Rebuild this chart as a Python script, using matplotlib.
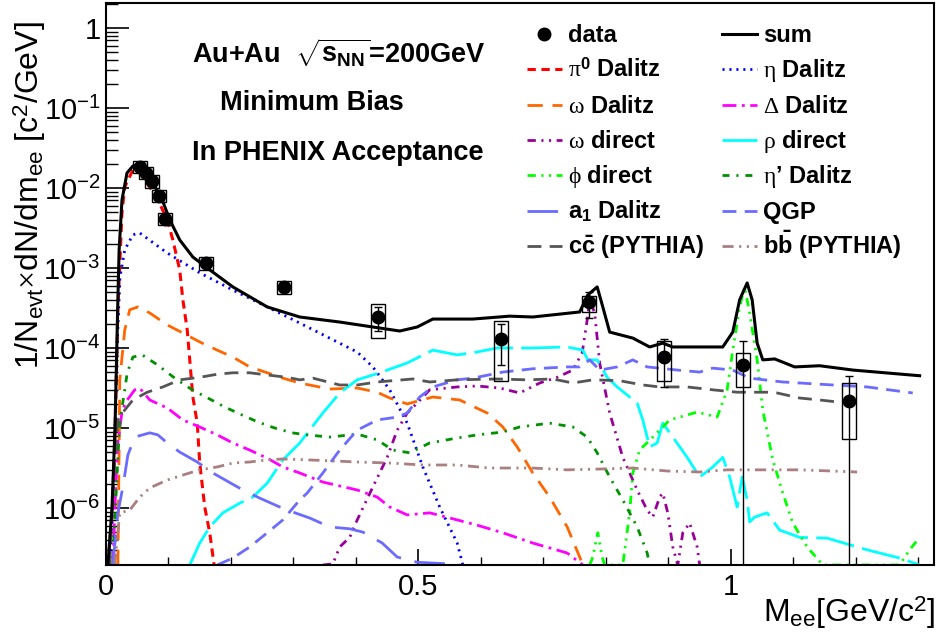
import numpy as np
import matplotlib
matplotlib.use('Agg')
import matplotlib.pyplot as plt
from matplotlib.lines import Line2D
from matplotlib.patches import Rectangle
from matplotlib.ticker import LogLocator, MultipleLocator, FuncFormatter, NullFormatter, FixedLocator

plt.rcParams['font.family'] = ['Liberation Sans', 'DejaVu Sans']
plt.rcParams['mathtext.fontset'] = 'custom'
plt.rcParams['mathtext.rm'] = 'Liberation Serif'
plt.rcParams['mathtext.it'] = 'Liberation Serif:italic'
plt.rcParams['mathtext.bf'] = 'Liberation Sans:bold'
plt.rcParams['mathtext.sf'] = 'Liberation Sans'
plt.rcParams['lines.scale_dashes'] = False

# ---- data points (M_ee in GeV/c^2, yield) ----
data_x = [0.054, 0.064, 0.074, 0.085, 0.094, 0.160, 0.285, 0.435, 0.632, 0.773, 0.893, 1.019, 1.189]
data_y = [0.0183, 0.0154, 0.0122, 0.0079, 0.0041, 0.00116, 0.00058, 2.44e-4, 1.3e-4, 3.8e-4, 7.7e-5, 6.1e-5, 2.2e-5]
stat_hi = [0.0186, 0.0157, 0.0125, 0.0081, 0.0042, 0.00119, 0.00060, 3.26e-4, 2.0e-4, 5.0e-4, 1.3e-4, 1.22e-4, 4.47e-5]
stat_lo = [0.0180, 0.0151, 0.0119, 0.0077, 0.0040, 0.00113, 0.00056, 1.63e-4, 6.1e-5, 2.37e-4, 3.26e-5, 0, 0]
sys_hi = [0.022, 0.0185, 0.0146, 0.0095, 0.0049, 0.00138, 0.00069, 3.55e-4, 2.18e-4, 4.47e-4, 1.22e-4, 8.66e-5, 3.65e-5]
sys_lo = [0.0152, 0.0128, 0.0101, 0.0066, 0.0034, 0.00094, 0.00047, 1.33e-4, 3.87e-5, 2.8e-4, 3.87e-5, 3.26e-5, 7.3e-6]

# ---- cocktail components ----
sum_x = [0.003, 0.0096, 0.0144, 0.019, 0.021, 0.0256, 0.0336, 0.043, 0.051, 0.070, 0.090, 0.102, 0.118, 0.139,
         0.162, 0.203, 0.258, 0.310, 0.374, 0.470, 0.498, 0.523, 0.587, 0.646, 0.683, 0.758, 0.771, 0.786,
         0.795, 0.806, 0.843, 0.870, 0.891, 0.907, 0.950, 0.987, 1.003, 1.014, 1.026, 1.034, 1.042, 1.051,
         1.070, 1.102, 1.142, 1.195, 1.302]
sum_y = [0, 1e-6, 1e-5, 4e-4, 1.68e-3, 7.1e-3, 0.0154, 0.0188, 0.0194, 0.0137, 0.0071, 0.004, 0.00224, 0.00137,
         0.001, 5.8e-4, 3.26e-4, 2.44e-4, 2.11e-4, 1.63e-4, 1.83e-4, 2.3e-4, 2.3e-4, 2.5e-4, 2.44e-4, 2.82e-4,
         4.6e-4, 5.8e-4, 3.26e-4, 1.58e-4, 1.33e-4, 1.03e-4, 1.15e-4, 1.03e-4, 1.03e-4, 1.03e-4, 1.58e-4,
         4e-4, 6.5e-4, 4e-4, 1.15e-4, 7.1e-5, 7.3e-5, 5.8e-5, 6.0e-5, 5.3e-5, 4.5e-5]

pi0_x = [0.003, 0.0096, 0.0144, 0.019, 0.0256, 0.030, 0.043, 0.054, 0.070, 0.083, 0.098, 0.107, 0.118, 0.123,
         0.130, 0.139, 0.146, 0.150, 0.158, 0.166, 0.173]
pi0_y = [0, 8e-7, 8e-6, 3e-4, 5e-3, 0.0103, 0.0168, 0.0154, 0.0103, 0.0071, 0.004, 0.00224, 9.4e-4, 4e-4,
         1.68e-4, 2.44e-5, 1.15e-5, 3.65e-6, 1.03e-6, 4.9e-7, 0]

eta_x = [0.006, 0.011, 0.0176, 0.0224, 0.030, 0.043, 0.054, 0.098, 0.150, 0.203, 0.258, 0.310, 0.402, 0.427,
         0.454, 0.482, 0.507, 0.534, 0.562, 0.571]
eta_y = [0, 1e-6, 9.4e-5, 7.7e-4, 1.68e-3, 2.6e-3, 2.74e-3, 1.54e-3, 8.7e-4, 5.3e-4, 3.26e-4, 2.05e-4, 8.9e-5,
         5.8e-5, 3e-5, 1.15e-5, 3.26e-6, 1.03e-6, 3.65e-7, 0]

omega_dal_x = [0.019, 0.021, 0.022, 0.030, 0.038, 0.051, 0.070, 0.098, 0.123, 0.150, 0.178, 0.203, 0.230, 0.258,
               0.283, 0.310, 0.358, 0.402, 0.434, 0.454, 0.482, 0.523, 0.566, 0.610, 0.635, 0.658, 0.683,
               0.710, 0.738, 0.758, 0.763]
omega_dal_y = [0, 5.3e-6, 4e-5, 1.68e-4, 3e-4, 3.26e-4, 2.74e-4, 1.94e-4, 1.54e-4, 1.19e-4, 9.4e-5, 7.7e-5,
               5.8e-5, 4.9e-5, 4.2e-5, 3.65e-5, 3.07e-5, 3.16e-5, 2.8e-5, 2.37e-5, 2e-5, 2.44e-5, 2.24e-5,
               1.54e-5, 1.03e-5, 5.8e-6, 2.74e-6, 1.37e-6, 5.8e-7, 2.44e-7, 0]

delta_x = [0.011, 0.016, 0.019, 0.026, 0.034, 0.046, 0.054, 0.070, 0.098, 0.123, 0.150, 0.178, 0.203, 0.230,
           0.258, 0.283, 0.310, 0.347, 0.402, 0.434, 0.454, 0.482, 0.518, 0.562, 0.594, 0.635, 0.683, 0.738,
           0.763]
delta_y = [0, 2.24e-6, 6.5e-6, 1.68e-5, 2.24e-5, 3e-5, 3.16e-5, 2.24e-5, 1.78e-5, 1.26e-5, 1.03e-5, 8.2e-6,
           6.5e-6, 5.3e-6, 4.2e-6, 3.26e-6, 2.74e-6, 2.11e-6, 1.68e-6, 1.37e-6, 1.03e-6, 8.2e-7, 8.7e-7,
           7.1e-7, 6.1e-7, 4.9e-7, 3.65e-7, 2.74e-7, 0]

omega_dir_x = [0.347, 0.363, 0.374, 0.390, 0.402, 0.427, 0.450, 0.466, 0.482, 0.498, 0.518, 0.562, 0.594, 0.630,
               0.662, 0.694, 0.722, 0.747, 0.762, 0.770, 0.774, 0.782, 0.790, 0.806, 0.827, 0.850, 0.866,
               0.875, 0.886, 0.891, 0.899, 0.907, 0.915, 0.923, 0.934, 0.946, 0.950]
omega_dir_y = [0, 2e-7, 3.26e-7, 4.3e-7, 7.1e-7, 1.83e-6, 4.3e-6, 9.4e-6, 1.54e-5, 2.05e-5, 3e-5, 3.26e-5,
               3.35e-5, 3.16e-5, 2.74e-5, 3.65e-5, 4.3e-5, 5.3e-5, 8.7e-5, 2.24e-4, 4e-4, 2.74e-4, 6.5e-5,
               1.54e-5, 4.3e-6, 1.68e-6, 9.4e-7, 7.7e-7, 1.37e-6, 1.54e-6, 8.7e-7, 3.26e-7, 0, 4.9e-7, 6.5e-7,
               3.26e-7, 0]

rho_x = [0.134, 0.150, 0.166, 0.187, 0.214, 0.235, 0.258, 0.283, 0.310, 0.347, 0.374, 0.402, 0.438, 0.482,
         0.523, 0.562, 0.587, 0.626, 0.683, 0.738, 0.763, 0.771, 0.786, 0.802, 0.818, 0.850, 0.859, 0.870,
         0.882, 0.891, 0.907, 0.930, 0.950, 0.971, 0.987, 0.998, 1.010, 1.018, 1.026, 1.030, 1.038, 1.058,
         1.078, 1.110, 1.154, 1.218, 1.270, 1.302]
rho_y = [0, 3.65e-7, 5.8e-7, 8.7e-7, 1.15e-6, 1.37e-6, 2.05e-6, 4e-6, 6.5e-6, 1.54e-5, 2.74e-5, 4e-5, 4.9e-5,
         6.5e-5, 9.4e-5, 8.2e-5, 8.7e-5, 1e-4, 1e-4, 1.03e-4, 9.4e-5, 7.1e-5, 7.1e-5, 4.3e-5, 3.26e-5,
         2.05e-5, 1.26e-5, 5.8e-6, 6.5e-6, 1.15e-5, 7.7e-6, 4.3e-6, 2.44e-6, 3.26e-6, 4.3e-6, 2.44e-6,
         1.03e-6, 2.44e-6, 1.26e-6, 6.7e-7, 7.7e-7, 8.7e-7, 5.3e-7, 4.3e-7, 4.2e-7, 3e-7, 2.37e-7, 0]

phi_x = [0.774, 0.779, 0.787, 0.794, 0.798, 0.827, 0.838, 0.843, 0.854, 0.875, 0.902, 0.946, 0.978, 0.994,
         1.003, 1.014, 1.022, 1.030, 1.042, 1.051, 1.067, 1.083, 1.099, 1.122, 1.147, 1.270, 1.286, 1.302]
phi_y = [0, 2.44e-7, 4.9e-7, 2.44e-7, 0, 0, 8.7e-7, 2.74e-6, 5.3e-6, 7.7e-6, 1.26e-5, 1.58e-5, 1.37e-5,
         3e-5, 9.4e-5, 3.26e-4, 5.8e-4, 2.74e-4, 7.1e-5, 1.68e-5, 4e-6, 1.54e-6, 6.5e-7, 3.26e-7, 0, 0,
         3e-7, 4.3e-7]

etap_x = [0.011, 0.018, 0.022, 0.034, 0.043, 0.058, 0.083, 0.110, 0.138, 0.163, 0.190, 0.218, 0.243, 0.270,
          0.298, 0.322, 0.358, 0.402, 0.434, 0.459, 0.486, 0.518, 0.562, 0.594, 0.635, 0.662, 0.710, 0.747,
          0.770, 0.786, 0.806, 0.827, 0.850, 0.866, 0.870]
etap_y = [0, 3e-6, 1.15e-5, 4.9e-5, 7.7e-5, 8.2e-5, 6.1e-5, 4.2e-5, 3e-5, 2.37e-5, 1.83e-5, 1.45e-5, 1.19e-5,
          1e-5, 8.7e-6, 8.2e-6, 7.7e-6, 8.4e-6, 7.1e-6, 5.3e-6, 4.9e-6, 6.5e-6, 7.5e-6, 8.2e-6, 8.9e-6,
          1.03e-5, 1.15e-5, 1.03e-5, 7.7e-6, 4.9e-6, 2.44e-6, 1.26e-6, 5.8e-7, 2.74e-7, 0]

a1_x = [0.011, 0.019, 0.027, 0.035, 0.046, 0.070, 0.083, 0.098, 0.118, 0.146, 0.171, 0.219, 0.246, 0.278,
        0.299, 0.326, 0.358, 0.390, 0.411, 0.442, 0.466, 0.498, 0.550, 0.566]
a1_y = [0, 8.7e-7, 1.83e-6, 4.6e-6, 7.7e-6, 8.7e-6, 8.2e-6, 6.5e-6, 5e-6, 3.76e-6, 2.74e-6, 1.68e-6, 1.33e-6,
        1.03e-6, 8.9e-7, 7.5e-7, 5.8e-7, 5.5e-7, 5e-7, 3.65e-7, 2.44e-7, 2.1e-7, 2e-7, 0]

qgp_x = [0.178, 0.203, 0.230, 0.258, 0.283, 0.310, 0.322, 0.347, 0.374, 0.402, 0.434, 0.466, 0.482, 0.502,
         0.523, 0.562, 0.587, 0.635, 0.683, 0.738, 0.758, 0.774, 0.790, 0.818, 0.843, 0.866, 0.886, 0.914,
         0.950, 0.971, 1.003, 1.030, 1.083, 1.163, 1.218, 1.291]
qgp_y = [0, 2.37e-7, 3.26e-7, 4.9e-7, 7.1e-7, 1.26e-6, 1.54e-6, 2.74e-6, 5.3e-6, 9.4e-6, 1.26e-5, 1.37e-5,
         1.54e-5, 2.44e-5, 3.26e-5, 4e-5, 4.2e-5, 5e-5, 5.5e-5, 5.8e-5, 5.8e-5, 7.1e-5, 5.3e-5, 5.8e-5,
         7.1e-5, 5.8e-5, 5.6e-5, 5.3e-5, 5e-5, 5.6e-5, 5.3e-5, 4.2e-5, 3.76e-5, 3.45e-5, 3.26e-5, 2.74e-5]

ccbar_x = [0.006, 0.013, 0.019, 0.030, 0.043, 0.066, 0.091, 0.118, 0.150, 0.178, 0.203, 0.230, 0.258, 0.290,
           0.310, 0.331, 0.374, 0.402, 0.434, 0.491, 0.518, 0.562, 0.626, 0.674, 0.715, 0.747, 0.779, 0.822,
           0.859, 0.886, 0.930, 0.971, 1.010, 1.058, 1.074, 1.110, 1.142, 1.186]
ccbar_y = [0, 3e-6, 1.26e-5, 1.68e-5, 2.24e-5, 2.8e-5, 3.26e-5, 4e-5, 4.3e-5, 4.7e-5, 4.9e-5, 4.9e-5, 4.6e-5,
           4.3e-5, 4e-5, 4.2e-5, 3.45e-5, 3.45e-5, 3.76e-5, 4.1e-5, 3.76e-5, 4e-5, 4.1e-5, 4e-5, 4.1e-5,
           3.65e-5, 4e-5, 3.9e-5, 3.45e-5, 3.26e-5, 3.26e-5, 3e-5, 2.8e-5, 2.8e-5, 2.74e-5, 2.37e-5, 2.24e-5,
           2.05e-5]

bbbar_x = [0.014, 0.022, 0.038, 0.054, 0.070, 0.098, 0.123, 0.150, 0.178, 0.203, 0.230, 0.258, 0.283, 0.322,
           0.402, 0.454, 0.507, 0.562, 0.614, 0.683, 0.738, 0.790, 0.843, 0.898, 0.950, 0.994, 1.058, 1.110,
           1.202]
bbbar_y = [0, 8.7e-7, 9.4e-7, 1.37e-6, 1.78e-6, 2.24e-6, 2.58e-6, 3e-6, 3.26e-6, 3.65e-6, 3.76e-6, 4e-6,
           4.1e-6, 4e-6, 3.76e-6, 3.65e-6, 3.45e-6, 3.45e-6, 3.16e-6, 3.16e-6, 3e-6, 3.07e-6, 3.16e-6, 2.9e-6,
           2.82e-6, 3e-6, 3e-6, 3e-6, 2.82e-6]

y_decades = [1e-6, 1e-5, 1e-4, 1e-3, 1e-2, 1e-1, 1]

YMIN, YMAX = 1.94e-7, 2.05
W, H = 937, 636

fig = plt.figure(figsize=(W / 100, H / 100), dpi=100)
ax = fig.add_axes([106 / W, 1 - 565 / H, (934 - 106) / W, (565 - 3) / H])

# name, x, y, color, dashes (None = solid), linewidth
curves = [
    ('pi0', pi0_x, pi0_y, '#ff0000', (6, 4), 2.2),
    ('eta', eta_x, eta_y, '#0000ff', (1.5, 3.5), 2.0),
    ('omega_dal', omega_dal_x, omega_dal_y, '#ff6600', (11, 7), 2.0),
    ('delta', delta_x, delta_y, '#ff00ff', (10, 4, 2, 4), 2.0),
    ('omega_dir', omega_dir_x, omega_dir_y, '#990099', (6, 4, 1.5, 4, 1.5, 4), 2.0),
    ('rho', rho_x, rho_y, '#00ffff', (28, 6), 2.0),
    ('phi', phi_x, phi_y, '#00ff00', (6, 4, 1.5, 4, 1.5, 4), 2.0),
    ('etap', etap_x, etap_y, '#009000', (5, 5, 1.5, 5), 2.0),
    ('a1', a1_x, a1_y, '#6b6bff', (22, 10), 2.0),
    ('qgp', qgp_x, qgp_y, '#6b6bff', (10, 6), 2.0),
    ('ccbar', ccbar_x, ccbar_y, '#555555', (10, 6), 2.0),
    ('bbbar', bbbar_x, bbbar_y, '#aa7f7f', (8, 4, 1.5, 4, 1.5, 4), 2.0),
]
for name, cx, cy, col, dash, lw in curves:
    ax.plot(cx, np.maximum(np.array(cy), YMIN), color=col, lw=lw, dashes=dash, zorder=2)

ax.plot(sum_x, np.maximum(np.array(sum_y), YMIN), color='black', lw=2.2, zorder=3)

# systematic boxes + statistical error bars
dx = 0.011
for xi, lo, hi in zip(data_x, sys_lo, sys_hi):
    ax.add_patch(Rectangle((xi - dx, lo), 2 * dx, hi - lo, fill=False, ec='black', lw=1.0, zorder=4))
dy = np.array(data_y)
lo_err = dy - np.maximum(np.array(stat_lo), 1e-12)
hi_err = np.array(stat_hi) - dy
ax.errorbar(data_x, data_y, yerr=[lo_err, hi_err], fmt='o', color='black', ms=9, elinewidth=1.0,
            capsize=3, capthick=1.0, zorder=5)

ax.set_xlim(0, 1.325)
ax.set_yscale('log')
ax.set_ylim(YMIN, YMAX)

ax.yaxis.set_major_locator(FixedLocator(y_decades))
ax.yaxis.set_minor_locator(LogLocator(base=10, subs=np.arange(2, 10), numticks=20))


def ylab(v, pos):
    e = int(round(np.log10(v)))
    if e == 0:
        return '1'
    return r'$\mathdefault{10^{%d}}$' % e


ax.yaxis.set_major_formatter(FuncFormatter(ylab))
ax.yaxis.set_minor_formatter(NullFormatter())
ax.xaxis.set_major_locator(MultipleLocator(0.5))
ax.xaxis.set_minor_locator(MultipleLocator(0.1))
ax.xaxis.set_major_formatter(FuncFormatter(lambda v, p: '%g' % v))

ax.tick_params(axis='y', which='major', direction='in', length=16.5, width=1.2, right=False,
               labelsize=21, pad=4)
ax.tick_params(axis='y', which='minor', direction='in', length=8.5, width=1.0, right=False)
ax.tick_params(axis='x', which='major', direction='in', length=11.5, width=1.2, top=False,
               labelsize=21, pad=6)
ax.tick_params(axis='x', which='minor', direction='in', length=6, width=1.0, top=False)
for s in ax.spines.values():
    s.set_linewidth(1.5)


def fx(px):
    return px / W


def fy(py):
    return 1 - py / H


fig.text(fx(30), fy(195), r'1/N$_{\mathdefault{evt}}$$\times$dN/dm$_{\mathdefault{ee}}$ [c$^{\mathdefault{2}}$/GeV]',
         rotation=90, ha='center', va='center', fontsize=23)
fig.text(fx(935), fy(622), r'M$_{\mathdefault{ee}}$[GeV/c$^{\mathdefault{2}}$]', ha='right', va='baseline',
         fontsize=23)

fig.text(fx(192), fy(53), r'Au+Au  $\sqrt{\mathbf{s_{NN}}}$=200GeV', fontsize=19.5, fontweight='bold',
         va='center')
fig.text(fx(220), fy(103), 'Minimum Bias', fontsize=19.5, fontweight='bold', va='center')
fig.text(fx(192), fy(153), 'In PHENIX Acceptance', fontsize=19.5, fontweight='bold', va='center')

# legend drawn by hand, two columns
leg_rows = [
    [('data', None), ('sum', ('black', None, 2.2))],
    [(r'$\mathrm{\pi}^{\mathbf{0}}$ Dalitz', curves[0]), (r'$\mathrm{\eta}$ Dalitz', curves[1])],
    [(r'$\mathrm{\omega}$ Dalitz', curves[2]), (r'$\mathrm{\Delta}$ Dalitz', curves[3])],
    [(r'$\mathrm{\omega}$ direct', curves[4]), (r'$\mathrm{\rho}$ direct', curves[5])],
    [(r'$\mathrm{\phi}$ direct', curves[6]), (r"$\mathrm{\eta}$’ Dalitz", curves[7])],
    [(r'$\mathbf{a}_{\mathbf{1}}$ Dalitz', curves[8]), ('QGP', curves[9])],
    [(r'$\mathbf{c\bar{c}}$ (PYTHIA)', curves[10]), (r'$\mathbf{b\bar{b}}$ (PYTHIA)', curves[11])],
]
col_x = [527, 722]
for r, row in enumerate(leg_rows):
    yc = 34 + 35.3 * r
    for c, (lab, sty) in enumerate(row):
        x0 = col_x[c]
        if sty is None:
            fig.add_artist(Line2D([fx(x0 + 17)], [fy(yc)], marker='o', ms=9, color='black', ls='none'))
        else:
            if len(sty) == 3:
                col, dash, lw = sty
            else:
                col, dash, lw = sty[3], sty[4], sty[5]
            ln = Line2D([fx(x0), fx(x0 + 35)], [fy(yc), fy(yc)], color=col, lw=lw)
            if dash is not None:
                ln.set_dashes(dash)
            fig.add_artist(ln)
        fig.text(fx(x0 + 41), fy(yc + 8), lab, fontsize=17, fontweight='bold', va='baseline')

fig.savefig('out.png', dpi=100)
